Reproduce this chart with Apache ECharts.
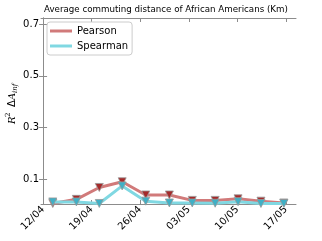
<!DOCTYPE html>
<html>
<head>
<meta charset="utf-8">
<script src="https://cdn.jsdelivr.net/npm/echarts@6/dist/echarts.min.js"></script>
<style>html,body{margin:0;padding:0;background:#fff;}#c{width:322px;height:241px;}</style>
</head>
<body>
<div id="c"></div>
<script>
var tickLabels = ['12/04','19/04','26/04','03/05','10/05','17/05'];
var tickDays = [0, 7, 14, 21, 28, 35];
var pointDays = [1.4, 4.8, 8.1, 11.4, 14.8, 18.2, 21.5, 24.8, 28.1, 31.4, 34.7];
var pearson  = [0.006, 0.022, 0.068, 0.090, 0.039, 0.039, 0.018, 0.018, 0.024, 0.015, 0.008];
var spearman = [0.012, 0.012, 0.006, 0.074, 0.015, 0.008, 0.008, 0.007, 0.013, 0.006, 0.006];
var yTicks = [0.1, 0.3, 0.5, 0.7];
var titleText = 'Average commuting distance of African Americans (Km)';

function pairs(xs, ys) { return xs.map(function (x, i) { return [x, ys[i]]; }); }

var chart = echarts.init(document.getElementById('c'), null, {renderer:'canvas'});
var font = 'DejaVu Sans';
var axisCol = '#8c8c8c';
var xMin = -0.3, xMax = 36.45, yMin = 0.004, yMax = 0.724;
chart.setOption({
  animation: false,
  backgroundColor: '#fff',
  title: {text: titleText, left: 44, top: 5, padding: 0, textStyle: {fontSize: 8.7, fontWeight: 'normal', color: '#000', fontFamily: font}},
  grid: {left: 41, right: 26, top: 18, bottom: 37},
  legend: {
    orient: 'vertical', left: 47, top: 22, itemWidth: 22, itemHeight: 3, itemGap: 5,
    borderColor: '#cccccc', borderWidth: 1, borderRadius: 3, padding: [4, 4, 4, 3],
    textStyle: {fontSize: 10, color: '#000', fontFamily: font},
    data: [
      {name: 'Pearson', icon: 'rect', itemStyle: {color: '#d17a7a', borderWidth: 0}},
      {name: 'Spearman', icon: 'rect', itemStyle: {color: '#80d8e2', borderWidth: 0}}
    ]
  },
  xAxis: [{
    type: 'value', min: xMin, max: xMax,
    axisLine: {lineStyle: {color: axisCol, width: 1}},
    axisTick: {show: true, inside: true, length: 4, customValues: tickDays, lineStyle: {color: axisCol}},
    axisLabel: {customValues: tickDays, rotate: 45, margin: 4, fontSize: 10, color: '#000', fontFamily: font,
      formatter: function (v) { var k = tickDays.indexOf(v); return k >= 0 ? tickLabels[k] : ''; }},
    splitLine: {show: false}
  }, {
    type: 'value', min: xMin, max: xMax, position: 'top',
    axisLine: {show: true, lineStyle: {color: axisCol, width: 1}},
    axisTick: {show: true, inside: true, length: 4, customValues: tickDays, lineStyle: {color: axisCol}},
    axisLabel: {show: false},
    splitLine: {show: false}
  }],
  yAxis: [{
    type: 'value', min: yMin, max: yMax,
    axisLine: {show: true, lineStyle: {color: axisCol, width: 1}},
    axisTick: {show: true, inside: true, length: 4, customValues: yTicks, lineStyle: {color: axisCol}},
    axisLabel: {customValues: yTicks, margin: 2, fontSize: 10, color: '#000', fontFamily: font,
      formatter: function (v) { return v.toFixed(1); }},
    splitLine: {show: false}
  }, {
    type: 'value', min: yMin, max: yMax, position: 'right',
    axisLine: {show: true, lineStyle: {color: axisCol, width: 1}},
    axisTick: {show: true, inside: true, length: 4, customValues: yTicks, lineStyle: {color: axisCol}},
    axisLabel: {show: false},
    splitLine: {show: false}
  }],
  graphic: [{
    type: 'group', x: 12, y: 104, rotation: Math.PI / 2,
    children: [
      {type: 'text', x: -20, y: 0, style: {text: 'R', fontSize: 10, fontStyle: 'italic', fontFamily: 'DejaVu Serif', fill: '#000', verticalAlign: 'middle'}},
      {type: 'text', x: -13, y: -4, style: {text: '2', fontSize: 7, fontFamily: 'DejaVu Serif', fill: '#000', verticalAlign: 'middle'}},
      {type: 'text', x: -3, y: 0, style: {text: 'Δ', fontSize: 10, fontFamily: 'DejaVu Sans', fill: '#000', verticalAlign: 'middle'}},
      {type: 'text', x: 4, y: 0, style: {text: 'A', fontSize: 10, fontStyle: 'italic', fontFamily: 'DejaVu Serif', fill: '#000', verticalAlign: 'middle'}},
      {type: 'text', x: 11, y: 3, style: {text: 'inf', fontSize: 7, fontStyle: 'italic', fontFamily: 'DejaVu Serif', fill: '#000', verticalAlign: 'middle'}}
    ]
  }],
  series: [{
    name: 'Pearson', type: 'line', data: pairs(pointDays, pearson),
    lineStyle: {color: '#d17a7a', width: 3},
    symbol: 'triangle', symbolRotate: 180, symbolSize: 8,
    itemStyle: {color: '#a52a2a', borderColor: '#999', borderWidth: 0.8},
    z: 2
  }, {
    name: 'Spearman', type: 'line', data: pairs(pointDays, spearman),
    lineStyle: {color: '#80d8e2', width: 3},
    symbol: 'triangle', symbolRotate: 180, symbolSize: 8,
    itemStyle: {color: '#3fb0c6', borderColor: '#999', borderWidth: 0.8},
    z: 3
  }]
});
</script>
</body>
</html>
